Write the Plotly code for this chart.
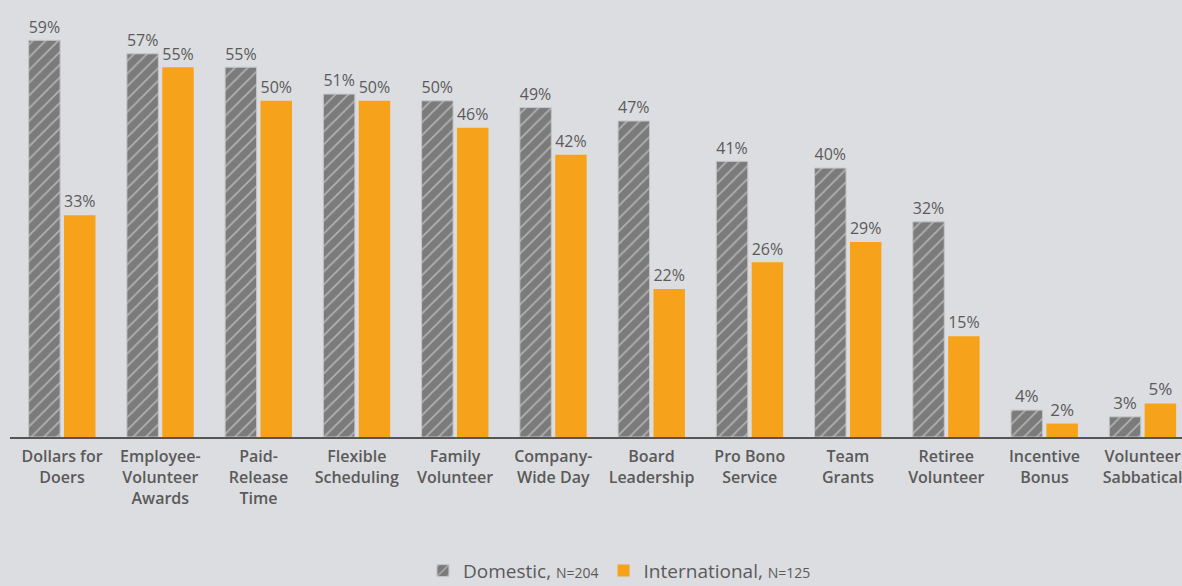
import plotly.graph_objects as go

# Volunteer program types offered, share of companies (%)
categories = [
    "Dollars for<br>Doers",
    "Employee-<br>Volunteer<br>Awards",
    "Paid-<br>Release<br>Time",
    "Flexible<br>Scheduling",
    "Family<br>Volunteer",
    "Company-<br>Wide Day",
    "Board<br>Leadership",
    "Pro Bono<br>Service",
    "Team<br>Grants",
    "Retiree<br>Volunteer",
    "Incentive<br>Bonus",
    "Volunteer<br>Sabbatical",
]
domestic = [59, 57, 55, 51, 50, 49, 47, 41, 40, 32, 4, 3]
international = [33, 55, 50, 50, 46, 42, 22, 26, 29, 15, 2, 5]

BG = "#dcdde0"
TEXT = "#5a5a5a"
GREY = "#7b7b7b"
ORANGE = "#f7a21b"
FONT = "Open Sans"

fig = go.Figure()

fig.add_trace(go.Bar(
    x=categories,
    y=domestic,
    name="Domestic, <span style='font-size:14px'>N=204</span>",
    marker=dict(
        color=GREY,
        line=dict(color="#c4c5c8", width=1),
        pattern=dict(shape="/", fgcolor="#e9e9e9", bgcolor=GREY,
                     size=9, solidity=0.18, fillmode="overlay"),
    ),
    text=[f"{v}%" for v in domestic],
    textposition="outside",
    textfont=dict(family=FONT, size=17, color=TEXT, weight=500),
    cliponaxis=False,
))

fig.add_trace(go.Bar(
    x=categories,
    y=international,
    name="International, <span style='font-size:14px'>N=125</span>",
    marker=dict(color=ORANGE, line=dict(color=ORANGE, width=0)),
    text=[f"{v}%" for v in international],
    textposition="outside",
    textfont=dict(family=FONT, size=17, color=TEXT, weight=500),
    cliponaxis=False,
))

fig.update_layout(
    width=1182,
    height=586,
    paper_bgcolor=BG,
    plot_bgcolor=BG,
    margin=dict(l=10, r=0, t=0, b=149, autoexpand=False),
    barmode="group",
    bargap=0.28,
    bargroupgap=0.11,
    font=dict(family=FONT, color=TEXT),
    showlegend=True,
    legend=dict(
        orientation="h",
        x=0.52, xanchor="center",
        yref="container",
        y=0.026, yanchor="middle",
        font=dict(family=FONT, size=19, color=TEXT),
        bgcolor="rgba(0,0,0,0)",
        itemwidth=30,
    ),
)

fig.update_xaxes(
    type="category",
    range=[-0.53, 11.40],
    showline=True,
    linecolor="#555555",
    linewidth=1.5,
    ticks="",
    showgrid=False,
    tickfont=dict(family=FONT, size=16, color=TEXT, weight=600),
    tickangle=0,
    ticklabelstandoff=4,
)

fig.update_yaxes(
    range=[0, 65],
    visible=False,
    showgrid=False,
    zeroline=False,
)

fig.write_html("out.html")
